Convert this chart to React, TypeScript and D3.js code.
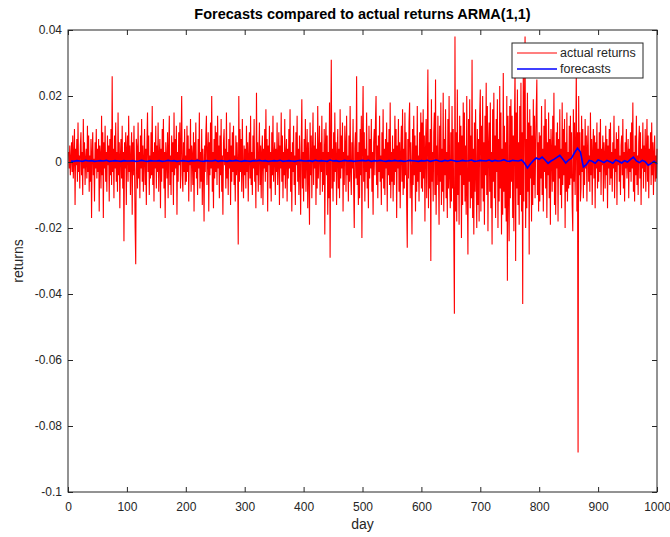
import React, { useEffect, useRef } from "react";
import * as d3 from "d3";

// actual daily returns, days 1..1000, in units of 0.001
const actualReturns: number[] = [
  3,-2,5,-4,1,6,-3,8,-5,2, 10,-13,4,-1,7,-6,12,-3,2,-8, 5,9,-4,3,-10,13,-2,6,-7,1, 4,-5,11,-3,8,-9,2,-6,7,-17, 3,9,-4,1,-12,6,-2,10,-5,4,
  -3,7,-15,5,2,-8,14,-4,9,-17, 6,-2,11,-6,3,-9,8,-1,5,-12, 7,-4,10,-7,26,-3,4,-11,8,-2, 12,-6,3,-9,15,-4,6,-14,2,7, -5,11,-8,3,-24,6,-2,9,-13,4,
  8,-6,14,-3,5,-10,2,9,-16,6, -4,11,-2,-20,-31,7,4,-8,12,-5, 3,-11,8,-2,13,-6,5,-9,1,10, -7,4,-13,6,15,-3,8,-10,2,-5, 9,-4,17,-7,3,-12,6,-2,11,-8,
  5,-3,12,-9,2,7,-14,4,-6,10, -2,13,-8,3,-17,6,1,-5,9,-11, 4,14,-7,2,-10,8,-3,6,-13,15, -4,7,-2,11,-16,3,-6,9,-1,12, -8,5,20,-4,-9,6,-3,10,-7,2,
  -6,11,-3,8,-12,4,-1,13,-9,5, 2,-7,9,-15,6,-3,12,-5,1,-10, 7,-2,15,-8,3,-6,10,-13,4,-1, -18,5,-3,8,14,-7,2,9,-15,6, -4,12,-2,20,-9,3,-14,7,-5,11,
  -3,9,-7,14,-2,5,-11,8,-4,13, -9,2,-16,6,10,-1,4,-8,15,-5, 3,-10,7,-2,12,-13,5,-6,9,-3, 11,-7,2,-12,8,-4,6,-1,-25,20, -6,10,-3,7,-9,13,-2,-11,5,-4,
  4,-8,11,-3,6,-12,2,9,-5,14, -7,3,-10,8,-2,13,-6,1,-14,21, -4,6,-9,2,12,-7,5,-11,3,8, -13,4,-2,10,-6,16,-3,7,-15,5, -1,11,-8,3,-12,9,-4,14,-6,2,
  6,-10,4,-3,12,-7,1,9,-13,5, -2,15,-6,8,-11,3,-4,13,-8,2, 7,-12,4,-5,10,-2,16,-9,3,-15, 6,-3,11,-7,2,-13,9,-1,14,-6, 4,-10,8,-2,-16,5,19,-8,3,-12,
  7,-5,13,-9,2,10,-14,6,-3,-19, 12,-4,8,-11,3,15,-7,5,-2,9, -13,4,-8,17,-5,2,11,-10,6,-3, 14,-9,3,-7,10,-22,5,12,-4,8, -16,3,-11,18,-29,7,31,-8,4,-12,
  9,-6,15,-3,6,-13,2,10,-8,4, -11,16,-5,8,-2,12,-15,3,-7,11, 5,-9,14,-4,2,-12,8,-6,17,-3, -10,6,-2,13,-8,-20,4,9,-5,26, -7,3,-13,6,-11,10,-4,14,-23,8,
  23,-6,9,-12,4,-3,15,-8,2,-14, 11,-5,7,-2,13,-9,3,-16,6,10, -4,12,20,-7,5,-11,8,-3,14,-6, 2,-13,9,-5,16,-8,4,-10,7,-2, 12,-15,6,-4,10,-7,18,-11,3,-6,
  8,-12,4,-7,14,-3,10,-17,5,-2, 13,-9,6,-14,3,11,-6,16,-10,4, -8,15,-4,9,-13,-26,7,-5,12,18, -11,6,-3,-22,10,-7,14,-4,8,-15, 5,-9,17,-6,2,-12,9,-3,15,-8,
  12,-9,16,-5,8,-18,4,13,-11,7, 28,-14,6,-8,10,-30,19,-6,3,-12, 9,15,-10,25,-16,5,-7,14,-3,-19, 11,-6,18,-13,4,-9,21,-15,7,-4, 16,-11,3,-17,13,-8,20,-5,-14,9,
  -12,17,-8,10,-21,-46,38,-15,9,-18, 22,-10,6,-19,14,-4,11,-23,8,-13, 18,-7,15,-12,5,-16,20,-9,-28,13, -6,19,-14,8,-11,31,-17,4,-22,12, -9,16,-5,-20,10,-13,7,-18,14,22,
  -15,11,-8,20,-12,6,-19,14,-4,24, -10,17,-21,5,12,-9,18,-14,3,-25, 16,-6,21,-11,8,-17,13,-3,19,-20, 7,-12,23,-8,15,-22,4,-16,27,-9, 11,-14,6,-18,20,-36,14,-7,-24,17,
  -11,19,-6,14,-17,8,-21,12,29,-30, 15,-8,22,-13,6,-19,17,-10,24,-15, 9,-43,31,-12,18,38,-20,7,-14,21, -9,12,-28,16,-5,11,-18,8,-13,19, -7,14,-11,5,16,25,-10,6,-15,9,
  -12,8,-5,17,-10,4,-15,11,-3,19, -8,13,-17,6,-4,15,-11,7,-19,10, 3,-9,14,-6,21,-13,5,-16,9,-2, 12,-18,7,-5,16,-10,4,-14,18,-7, 10,-4,13,-20,6,-9,15,-12,3,-8,
  11,-7,14,-5,9,-13,-21,16,-6,12, -10,5,28,-15,9,-88,20,-4,9,-12, -8,14,-3,10,-11,5,-7,13,-2,8, -12,4,11,-6,2,-9,15,-4,7,-13, 3,10,-5,8,-14,6,-2,12,-8,4,
  -6,9,-3,13,-10,4,-1,8,-12,6, 2,-8,11,-4,7,-14,5,-2,10,-7, 12,-5,3,-9,6,-2,14,-11,4,-3, 9,-13,7,-1,11,-6,2,-10,5,8, -4,13,-8,3,-12,6,-2,10,-5,1,
  7,-11,4,-3,9,-6,12,-2,18,-9, 3,-12,8,-4,14,-7,2,-10,6,11, -5,9,-13,4,-2,12,-8,5,-3,10, -9,2,13,-6,8,-11,4,-1,9,-7, 12,-4,6,-10,3,8,-6,2,-5,4,
];

// ARMA(1,1) forecasts, every 5th day (5..1000), in units of 0.0001
const forecasts: number[] = [
  3,2,4,3,2,5,3,4,2,3,4,3,5,2,3,4,3,2,4,3,
  3,4,2,3,5,3,2,4,3,3,4,2,3,5,3,4,2,3,4,3,
  2,4,3,5,3,2,4,3,3,5,2,4,3,2,4,3,5,3,2,4,
  3,2,4,3,5,3,4,2,3,4,3,5,2,3,4,3,2,4,5,3,
  3,4,2,5,3,4,3,2,6,3,4,2,3,5,3,4,2,3,4,5,
  3,5,2,4,3,5,3,2,4,3,5,3,4,2,3,5,4,3,2,4,
  3,5,2,4,6,3,2,5,3,6,4,2,3,5,3,4,6,2,3,5,
  4,3,6,2,5,3,4,7,3,2,5,4,3,6,-3,-18,-6,4,12,8,
  15,6,-4,3,8,14,20,9,-3,6,12,28,42,30,-15,-8,5,2,-4,6,
  3,-2,5,1,-4,6,2,-3,4,0,8,15,3,-2,5,1,-10,-4,2,-6,
];

const xTicks = [0, 100, 200, 300, 400, 500, 600, 700, 800, 900, 1000];
const yTicks = [-0.1, -0.08, -0.06, -0.04, -0.02, 0, 0.02, 0.04];
const yTickLabels = ["-0.1", "-0.08", "-0.06", "-0.04", "-0.02", "0", "0.02", "0.04"];
const legendLabels = ["actual returns", "forecasts"];

export default function App() {
  const svgRef = useRef<SVGSVGElement>(null);

  useEffect(() => {
    if (!svgRef.current) return;
    const svg = d3.select(svgRef.current);
    svg.selectAll("*").remove();

    const left = 68, right = 657, top = 30, bottom = 492;
    const font = "'Liberation Sans', Arial, Helvetica, sans-serif";
    const ink = "#262626";

    const x = d3.scaleLinear().domain([0, 1000]).range([left, right]);
    const y = d3.scaleLinear().domain([-0.1, 0.04]).range([bottom, top]);

    const actual = actualReturns.map((v, i) => [i + 1, v / 1000] as [number, number]);
    const fc = forecasts.map((v, i) => [(i + 1) * 5, v / 10000] as [number, number]);

    const line = d3
      .line<[number, number]>()
      .x((d) => x(d[0]))
      .y((d) => y(d[1]));

    // white plot background
    svg.append("rect")
      .attr("x", left).attr("y", top)
      .attr("width", right - left).attr("height", bottom - top)
      .attr("fill", "#fff");

    svg.append("path")
      .datum(actual)
      .attr("fill", "none")
      .attr("stroke", "#ff0000")
      .attr("stroke-width", 1.1)
      .attr("d", line);

    svg.append("path")
      .datum(fc)
      .attr("fill", "none")
      .attr("stroke", "#0000ff")
      .attr("stroke-width", 1.6)
      .attr("d", line);

    // axes with inward ticks (MATLAB style box)
    const styleAxis = (g: any) => {
      g.select(".domain").remove();
      g.selectAll("line").attr("stroke", ink);
      g.selectAll("text")
        .attr("fill", ink)
        .attr("font-family", font)
        .attr("font-size", 12);
    };

    svg.append("g")
      .attr("transform", `translate(0,${bottom})`)
      .call(d3.axisBottom(x).tickValues(xTicks).tickSizeInner(-5).tickSizeOuter(0).tickPadding(10).tickFormat(d3.format("d")))
      .call(styleAxis);

    svg.append("g")
      .attr("transform", `translate(0,${top})`)
      .call(d3.axisTop(x).tickValues(xTicks).tickSizeInner(-5).tickSizeOuter(0).tickFormat(() => ""))
      .call(styleAxis);

    svg.append("g")
      .attr("transform", `translate(${left},0)`)
      .call(d3.axisLeft(y).tickValues(yTicks).tickSizeInner(-5).tickSizeOuter(0).tickPadding(6)
        .tickFormat((_, i) => yTickLabels[i]))
      .call(styleAxis);

    svg.append("g")
      .attr("transform", `translate(${right},0)`)
      .call(d3.axisRight(y).tickValues(yTicks).tickSizeInner(-5).tickSizeOuter(0).tickFormat(() => ""))
      .call(styleAxis);

    svg.append("rect")
      .attr("x", left).attr("y", top)
      .attr("width", right - left).attr("height", bottom - top)
      .attr("fill", "none")
      .attr("stroke", ink)
      .attr("stroke-width", 1);

    // titles
    svg.append("text")
      .attr("x", (left + right) / 2).attr("y", 19)
      .attr("text-anchor", "middle")
      .attr("font-family", font).attr("font-size", 14.5).attr("font-weight", "bold")
      .attr("fill", "#000")
      .text("Forecasts compared to actual returns ARMA(1,1)");

    svg.append("text")
      .attr("x", (left + right) / 2).attr("y", 529)
      .attr("text-anchor", "middle")
      .attr("font-family", font).attr("font-size", 14)
      .attr("fill", ink)
      .text("day");

    svg.append("text")
      .attr("transform", `translate(23,${(top + bottom) / 2}) rotate(-90)`)
      .attr("text-anchor", "middle")
      .attr("font-family", font).attr("font-size", 14)
      .attr("fill", ink)
      .text("returns");

    // legend
    const lg = svg.append("g").attr("transform", "translate(512,43)");
    lg.append("rect")
      .attr("width", 131).attr("height", 35)
      .attr("fill", "#fff").attr("stroke", ink).attr("stroke-width", 1);
    const colors = ["#ff0000", "#0000ff"];
    legendLabels.forEach((lab, i) => {
      const yy = 10 + i * 16;
      lg.append("line")
        .attr("x1", 5).attr("x2", 45).attr("y1", yy).attr("y2", yy)
        .attr("stroke", colors[i]).attr("stroke-width", i === 0 ? 1.1 : 1.6);
      lg.append("text")
        .attr("x", 48).attr("y", yy).attr("dy", "0.35em")
        .attr("font-family", font).attr("font-size", 12.5)
        .attr("fill", ink)
        .text(lab);
    });
  }, []);

  return (
    <svg
      ref={svgRef}
      width={670}
      height={537}
      style={{ position: "absolute", left: 0, top: 0, background: "#fff" }}
    />
  );
}
